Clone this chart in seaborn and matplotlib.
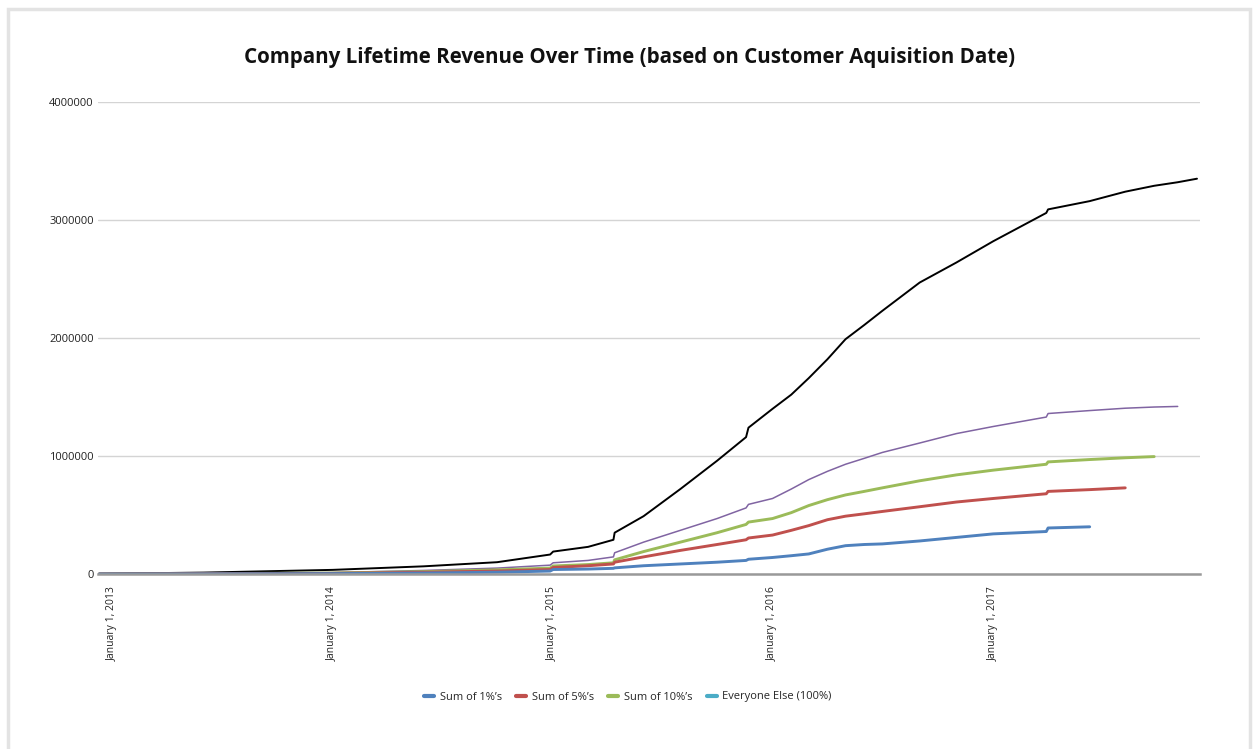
import matplotlib
matplotlib.use("Agg")
import matplotlib.pyplot as plt
from matplotlib.lines import Line2D
from matplotlib.patches import Rectangle
from matplotlib.ticker import FuncFormatter
import seaborn as sns
import pandas as pd
import numpy as np

# fechas comunes (los saltos van en fechas pegadas)
dates = [
    "2012-12-10", "2013-06-01", "2014-01-01", "2014-06-01", "2014-10-01",
    "2014-12-28", "2015-01-02", "2015-03-01", "2015-04-12", "2015-04-14",
    "2015-06-01", "2015-08-01", "2015-10-01", "2015-11-18", "2015-11-22",
    "2016-01-01", "2016-02-01", "2016-03-01", "2016-04-01", "2016-05-01",
    "2016-06-01", "2016-07-01", "2016-09-01", "2016-11-01", "2017-01-01",
    "2017-03-30", "2017-04-02", "2017-06-10", "2017-08-08", "2017-09-25",
    "2017-11-03", "2017-12-05",
]

nan = np.nan

total = [
    2000, 12000, 35000, 65000, 100000,
    165000, 190000, 230000, 290000, 350000,
    490000, 720000, 960000, 1160000, 1240000,
    1400000, 1520000, 1660000, 1820000, 1990000,
    2110000, 2230000, 2470000, 2640000, 2820000,
    3060000, 3090000, 3160000, 3240000, 3290000,
    3320000, 3350000,
]
purple = [
    1000, 5000, 12000, 30000, 50000,
    75000, 95000, 115000, 145000, 180000,
    270000, 370000, 470000, 560000, 590000,
    640000, 720000, 800000, 870000, 930000,
    980000, 1030000, 1110000, 1190000, 1250000,
    1330000, 1360000, 1385000, 1405000, 1415000,
    1420000, nan,
]
sum10 = [
    500, 3000, 8000, 20000, 35000,
    50000, 68000, 80000, 95000, 120000,
    190000, 270000, 350000, 420000, 440000,
    470000, 520000, 580000, 630000, 670000,
    700000, 730000, 790000, 840000, 880000,
    930000, 950000, 970000, 985000, 995000,
    nan, nan,
]
sum5 = [
    300, 2000, 5000, 15000, 25000,
    38000, 55000, 70000, 85000, 100000,
    145000, 200000, 250000, 290000, 305000,
    330000, 370000, 410000, 460000, 490000,
    510000, 530000, 570000, 610000, 640000,
    680000, 700000, 715000, 730000, nan,
    nan, nan,
]
sum1 = [
    200, 1000, 3000, 8000, 15000,
    25000, 38000, 42000, 48000, 52000,
    70000, 85000, 100000, 115000, 125000,
    140000, 155000, 170000, 210000, 240000,
    250000, 255000, 280000, 310000, 340000,
    360000, 390000, 400000, nan, nan,
    nan, nan,
]

legend_labels = ["Sum of 1%’s", "Sum of 5%’s", "Sum of 10%’s", "Everyone Else (100%)"]
legend_colors = ["#4F81BD", "#C0504D", "#9BBB59", "#4BACC6"]

sns.set_theme(style="white")
plt.rcParams["font.family"] = ["Open Sans", "DejaVu Sans"]

fig = plt.figure(figsize=(12.55, 7.49), dpi=100)
ax = fig.add_axes([98 / 1255, 1 - 574 / 749, 1102 / 1255, 472 / 749])

# marco gris claro de la figura
fig.patches.append(Rectangle((8 / 1255, -0.1), 1242 / 1255, 1.1 - 9 / 749,
                             transform=fig.transFigure, fill=False,
                             edgecolor="#e3e3e3", linewidth=2.5))

x = pd.to_datetime(dates)
series = [
    (total, "#000000", 1.4),
    (purple, "#8064A2", 1.1),
    (sum10, "#9BBB59", 2.1),
    (sum5, "#C0504D", 2.1),
    (sum1, "#4F81BD", 2.1),
]
for vals, color, lw in series:
    df = pd.DataFrame({"fecha": x, "valor": vals}).dropna()
    sns.lineplot(data=df, x="fecha", y="valor", color=color, linewidth=lw,
                 estimator=None, ax=ax)

ax.set_ylim(0, 4000000)
ax.set_yticks([0, 1000000, 2000000, 3000000, 4000000])
ax.yaxis.set_major_formatter(FuncFormatter(lambda v, _: f"{int(v)}"))
ax.grid(axis="y", color="#d4d4d4", linewidth=1)
ax.set_axisbelow(True)

ax.set_xlim(pd.Timestamp("2012-12-08"), pd.Timestamp("2017-12-10"))
ticks = pd.to_datetime(["2013-01-01", "2014-01-01", "2015-01-01", "2016-01-01", "2017-01-01"])
ax.set_xticks(ticks)
ax.set_xticklabels([f"January 1, {t.year}" for t in ticks], rotation=90, va="top")

for s in ["left", "right", "top"]:
    ax.spines[s].set_visible(False)
ax.spines["bottom"].set_color("#999999")
ax.spines["bottom"].set_linewidth(1.8)

ax.tick_params(axis="x", length=3, color="#dddddd", labelsize=7.5, pad=6,
               labelcolor="#222222")
ax.tick_params(axis="y", length=0, labelsize=8, pad=3, labelcolor="#222222")
ax.set_xlabel("")
ax.set_ylabel("")

fig.text(0.502, 1 - 57 / 749,
         "Company Lifetime Revenue Over Time (based on Customer Aquisition Date)",
         ha="center", va="center", fontsize=14.8, fontweight="bold", color="#111111")

handles = [Line2D([0], [0], color=c, linewidth=3) for c in legend_colors]
fig.legend(handles, legend_labels, loc="center", bbox_to_anchor=(628 / 1255, 1 - 697 / 749),
           ncol=4, frameon=False, handlelength=0.9,
           handletextpad=0.5, columnspacing=1.3, prop={"size": 8})

fig.savefig("out.png", dpi=100)
